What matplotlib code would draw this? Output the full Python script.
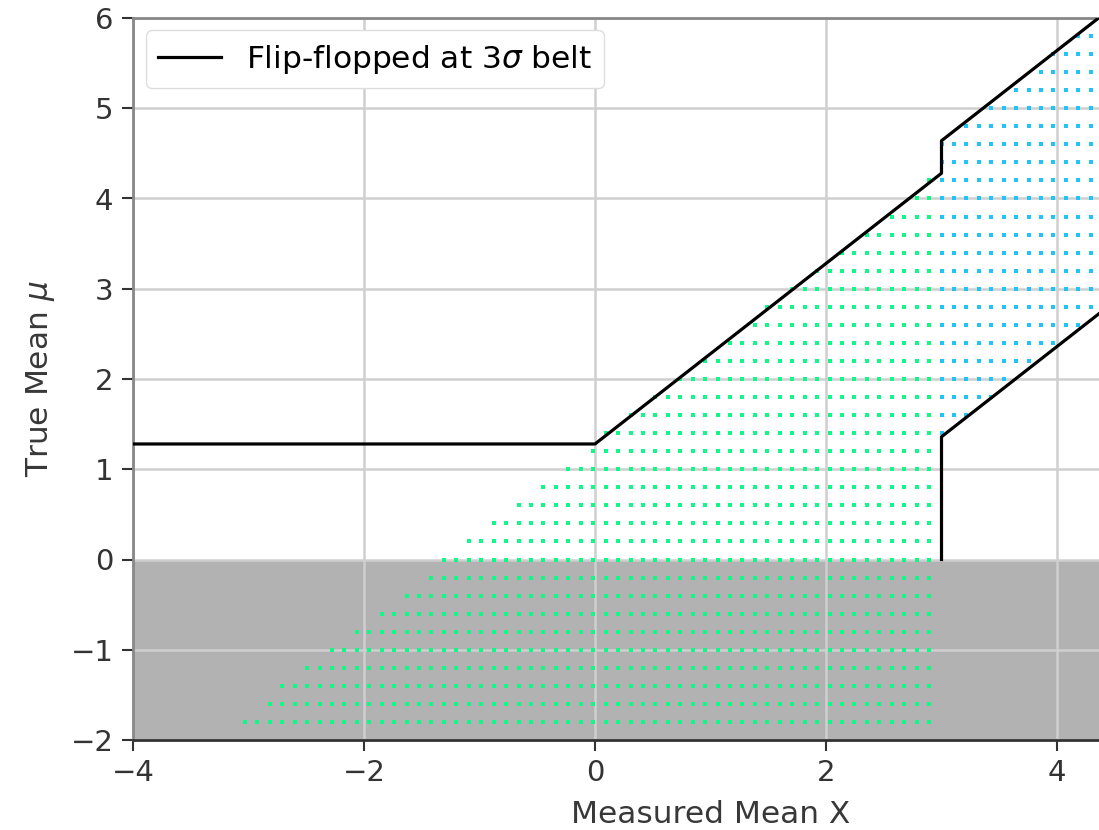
import numpy as np
import matplotlib
matplotlib.use("Agg")
import matplotlib.pyplot as plt

# flip-flopped belt outline: (measured x, true mu) corners
upper_x = [-4.0, 0.0, 3.0, 3.0, 6.0]
upper_mu = [1.28, 1.28, 4.28, 4.64, 7.64]
lower_x = [3.0, 3.0, 6.0]
lower_mu = [0.0, 1.36, 4.36]

one_sided = 1.28   # 90% upper limit offset
two_sided = 1.64   # 90% central interval half width
flip_x = 3.0       # switch from upper limit to central interval

# acceptance grid
mu_rows = np.round(np.arange(-1.8, 6.01, 0.2), 2)
x_step = 0.1077
x_cols = flip_x + x_step * np.arange(-75, 28)

gx, gmu, bx, bmu = [], [], [], []
for mu in mu_rows:
    for x in x_cols:
        if x < flip_x - 1e-9:
            if x >= mu - one_sided - 0.03:
                gx.append(x)
                gmu.append(mu)
        elif abs(x - mu) <= two_sided:
            bx.append(x)
            bmu.append(mu)

fig = plt.figure(figsize=(10.99, 8.30), dpi=100)
# axes run past the right edge of the canvas (x up to 6)
ax = fig.add_axes([133 / 1099, 90 / 830, 1155 / 1099, 722 / 830])

ax.axhspan(-2, 0, color="#b2b2b2", lw=0)
ax.plot(gx, gmu, "s", ms=2.7, mew=0, color="#10f888", zorder=2)
ax.plot(bx, bmu, "s", ms=2.7, mew=0, color="#20c4f8", zorder=2)

ax.plot(upper_x, upper_mu, color="black", lw=2.3, zorder=3,
        label=r"Flip-flopped at 3$\sigma$ belt")
ax.plot(lower_x, lower_mu, color="black", lw=2.3, zorder=3)

ax.set_xlim(-4, 6)
ax.set_ylim(-2, 6)
ax.set_xticks([-4, -2, 0, 2, 4])
ax.set_yticks(range(-2, 7))
ax.grid(True, color="#cfcfcf", lw=1.8)

ax.set_xlabel("Measured Mean X", fontsize=22.5, color="#383838", labelpad=9)
ax.set_ylabel(r"True Mean $\mu$", fontsize=22.5, color="#383838", labelpad=10)
ax.tick_params(labelsize=21, length=8, width=1.5, pad=6, colors="#333333")

for side in ["top", "left", "right"]:
    ax.spines[side].set_color("#888888")
    ax.spines[side].set_linewidth(2.0)
ax.spines["bottom"].set_color("#333333")
ax.spines["bottom"].set_linewidth(2.0)

ax.legend(loc="upper left", fontsize=22.5, edgecolor="#dddddd", framealpha=1,
          borderaxespad=0.4)

fig.savefig("out.png", dpi=100)
